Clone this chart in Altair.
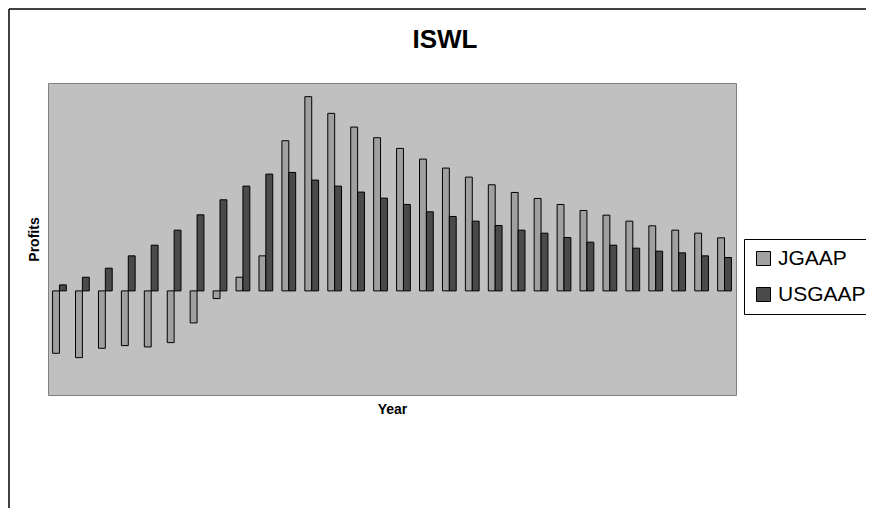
import altair as alt
import pandas as pd

years = list(range(1, 31))
jgaap = [-187, -200, -172, -164, -168, -155, -96, -23, 41, 105,
         450, 582, 532, 491, 459, 427, 395, 368, 341, 318,
         295, 277, 259, 241, 227, 209, 195, 182, 173, 159]
usgaap = [18, 41, 68, 105, 137, 182, 228, 273, 314, 350,
          355, 332, 314, 296, 278, 259, 237, 223, 209, 196,
          182, 173, 160, 146, 137, 128, 119, 114, 105, 100]
series = ["JGAAP", "USGAAP"]
colors = ["#a0a0a0", "#4a4a4a"]
title_text = "ISWL"

rows = []
for i, y in enumerate(years):
    rows.append({"Year": y, "Series": "JGAAP", "Profits": jgaap[i]})
    rows.append({"Year": y, "Series": "USGAAP", "Profits": usgaap[i]})
df = pd.DataFrame(rows)

FONT = "Liberation Sans"

bars = alt.Chart(df).mark_bar(stroke="black", strokeWidth=1).encode(
    x=alt.X("Year:O",
            scale=alt.Scale(paddingInner=0.4, paddingOuter=0.2),
            axis=alt.Axis(labels=False, ticks=False, domain=False,
                          title="Year", titleFontSize=14, titleFontWeight="bold",
                          titleFont=FONT, titlePadding=7, titleColor="black")),
    xOffset=alt.XOffset("Series:N", sort=series),
    y=alt.Y("Profits:Q",
            scale=alt.Scale(domain=[-312, 623], nice=False, zero=False),
            axis=alt.Axis(labels=False, ticks=False, domain=False, grid=False,
                          title="Profits", titleFontSize=14, titleFontWeight="bold",
                          titleFont=FONT, titlePadding=7, titleColor="black")),
    color=alt.Color("Series:N", sort=series,
                    scale=alt.Scale(domain=series, range=colors),
                    legend=alt.Legend(title=None, orient="none",
                                      legendX=696, legendY=156,
                                      strokeColor="black", fillColor="white",
                                      padding=9, rowPadding=14,
                                      symbolType="square", symbolSize=196,
                                      symbolStrokeColor="black", symbolStrokeWidth=1,
                                      labelFontSize=21, labelFont=FONT,
                                      labelColor="black", labelLimit=300)),
)

frame_data = alt.Data(values=[{"a": 1}])
left_line = alt.Chart(frame_data).mark_rule(color="black", strokeWidth=1.5).encode(
    x=alt.value(-39), y=alt.value(-74), y2=alt.value(440))
top_line = alt.Chart(frame_data).mark_rule(color="black", strokeWidth=1.5).encode(
    x=alt.value(-39), x2=alt.value(840), y=alt.value(-74))
title_mark = alt.Chart(frame_data).mark_text(
    font=FONT, fontSize=26, fontWeight="bold", color="black",
    align="center", baseline="alphabetic"
).encode(x=alt.value(397), y=alt.value(-35), text=alt.value(title_text))

chart = alt.layer(bars, left_line, top_line, title_mark).properties(
    width=688, height=312,
    autosize=alt.AutoSizeParams(type="none"),
    padding={"left": 40, "top": 75, "right": 130, "bottom": 113},
    view=alt.ViewBackground(fill="#c0c0c0", stroke="#808080", strokeWidth=1),
).configure(background="white")

chart.save("out.html", embed_options={"renderer": "svg", "actions": False})
